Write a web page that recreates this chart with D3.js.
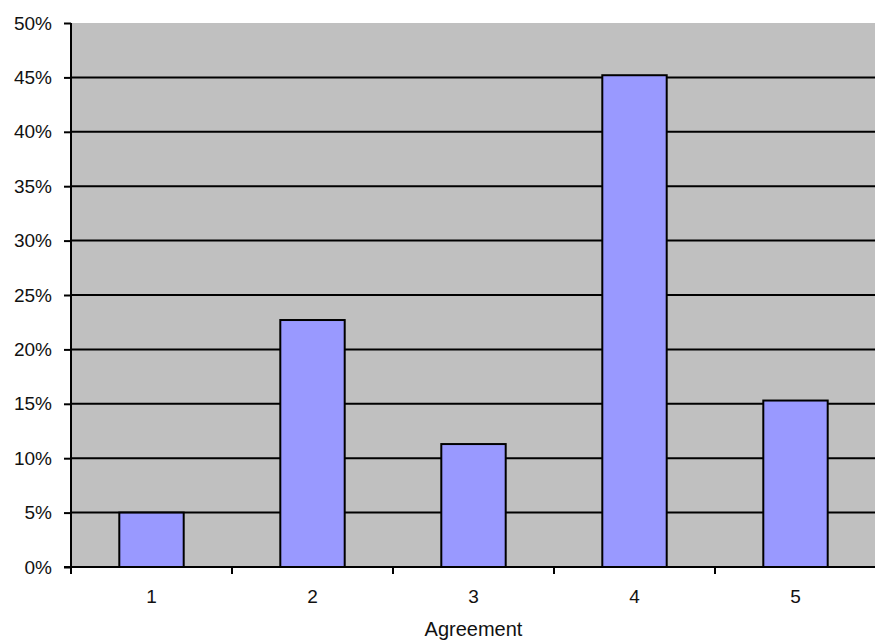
<!DOCTYPE html>
<html>
<head>
<meta charset="utf-8">
<script src="https://cdn.jsdelivr.net/npm/d3@7"></script>
<style>
  html, body { margin: 0; padding: 0; background: #fff; }
  svg { display: block; }
  text { font-family: "Liberation Sans", Arial, sans-serif; fill: #111; }
</style>
</head>
<body>
<svg id="chart" width="875" height="643"></svg>
<script>
const categories = ["1", "2", "3", "4", "5"];
const values = [0.050, 0.227, 0.113, 0.452, 0.153];
const yTicks = [0, 0.05, 0.10, 0.15, 0.20, 0.25, 0.30, 0.35, 0.40, 0.45, 0.50];
const xTitle = "Agreement";

const svg = d3.select("#chart");
const pLeft = 71, pRight = 876, pTop = 23, pBottom = 567;

const x = d3.scaleBand().domain(categories).range([pLeft, pRight])
  .paddingInner(0.6).paddingOuter(0.3);
const y = d3.scaleLinear().domain([0, 0.5]).range([pBottom, pTop]);

// plot background
svg.append("rect").attr("x", pLeft).attr("y", pTop)
  .attr("width", pRight - pLeft).attr("height", pBottom - pTop)
  .attr("fill", "#c0c0c0");

// gridlines
svg.append("g").selectAll("line").data(yTicks.filter(d => d > 0 && d < 0.5)).join("line")
  .attr("x1", pLeft).attr("x2", pRight)
  .attr("y1", d => y(d)).attr("y2", d => y(d))
  .attr("stroke", "#000").attr("stroke-width", 2);

// bars
svg.append("g").selectAll("rect").data(values).join("rect")
  .attr("x", (d, i) => x(categories[i]))
  .attr("y", d => y(d))
  .attr("width", x.bandwidth())
  .attr("height", d => y(0) - y(d))
  .attr("fill", "#9999ff")
  .attr("stroke", "#000").attr("stroke-width", 2);

// y axis
const yAxis = svg.append("g").attr("transform", `translate(${pLeft},0)`)
  .call(d3.axisLeft(y).tickValues(yTicks).tickFormat(d3.format(".0%"))
    .tickSize(7).tickPadding(12));
yAxis.attr("font-family", null).attr("font-size", null);
yAxis.select(".domain").attr("stroke", "#000").attr("stroke-width", 2)
  .attr("d", `M0,${pTop}V${pBottom}`);
yAxis.selectAll(".tick line").attr("stroke", "#000").attr("stroke-width", 2);
yAxis.selectAll(".tick text").style("font-size", "19px").attr("fill", "#111");

// x axis line
svg.append("line").attr("x1", pLeft - 7).attr("x2", pRight)
  .attr("y1", pBottom).attr("y2", pBottom)
  .attr("stroke", "#000").attr("stroke-width", 2);

// x tick marks at category boundaries
const bounds = categories.map(c => x(c) - x.step() * x.paddingOuter()).concat([pRight]);
svg.append("g").selectAll("line").data(bounds).join("line")
  .attr("x1", d => d).attr("x2", d => d)
  .attr("y1", pBottom).attr("y2", pBottom + 7)
  .attr("stroke", "#000").attr("stroke-width", 2);

// x labels
svg.append("g").selectAll("text").data(categories).join("text")
  .attr("x", d => x(d) + x.bandwidth() / 2)
  .attr("y", 603)
  .attr("text-anchor", "middle")
  .style("font-size", "19px")
  .text(d => d);

// x title
svg.append("text").attr("x", (pLeft + pRight) / 2).attr("y", 636)
  .attr("text-anchor", "middle").style("font-size", "20px").text(xTitle);
</script>
</body>
</html>
